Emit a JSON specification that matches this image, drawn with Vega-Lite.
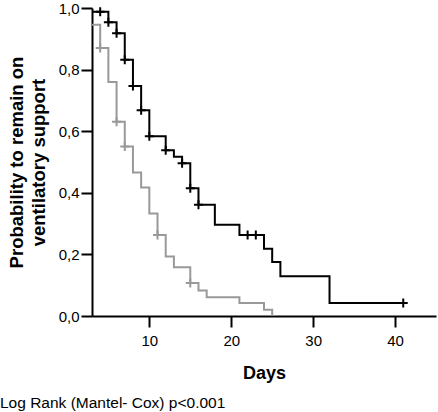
{
  "$schema": "https://vega.github.io/schema/vega-lite/v6.json",
  "width": 344,
  "height": 308,
  "autosize": {"type": "none"},
  "padding": {"left": 92, "top": 8, "right": 2, "bottom": 96},
  "background": "white",
  "config": {"view": {"stroke": null}, "font": "Liberation Sans"},
  "datasets": {
    "curve": [
      {"group": "B", "day": 3, "surv": 0.988},
      {"group": "B", "day": 5, "surv": 0.954},
      {"group": "B", "day": 6, "surv": 0.918},
      {"group": "B", "day": 7, "surv": 0.832},
      {"group": "B", "day": 8, "surv": 0.747},
      {"group": "B", "day": 9, "surv": 0.668},
      {"group": "B", "day": 10, "surv": 0.584},
      {"group": "B", "day": 12, "surv": 0.538},
      {"group": "B", "day": 13, "surv": 0.517},
      {"group": "B", "day": 14, "surv": 0.496},
      {"group": "B", "day": 15, "surv": 0.415},
      {"group": "B", "day": 16, "surv": 0.361},
      {"group": "B", "day": 18, "surv": 0.296},
      {"group": "B", "day": 21, "surv": 0.263},
      {"group": "B", "day": 24, "surv": 0.218},
      {"group": "B", "day": 25, "surv": 0.175},
      {"group": "B", "day": 26, "surv": 0.129},
      {"group": "B", "day": 32, "surv": 0.042},
      {"group": "B", "day": 41, "surv": 0.042},
      {"group": "A", "day": 3, "surv": 0.946},
      {"group": "A", "day": 4, "surv": 0.870},
      {"group": "A", "day": 5, "surv": 0.760},
      {"group": "A", "day": 6, "surv": 0.631},
      {"group": "A", "day": 7, "surv": 0.550},
      {"group": "A", "day": 8, "surv": 0.466},
      {"group": "A", "day": 9, "surv": 0.417},
      {"group": "A", "day": 10, "surv": 0.333},
      {"group": "A", "day": 11, "surv": 0.263},
      {"group": "A", "day": 12, "surv": 0.193},
      {"group": "A", "day": 13, "surv": 0.158},
      {"group": "A", "day": 15, "surv": 0.107},
      {"group": "A", "day": 16, "surv": 0.083},
      {"group": "A", "day": 17, "surv": 0.061},
      {"group": "A", "day": 21, "surv": 0.042},
      {"group": "A", "day": 24, "surv": 0.020},
      {"group": "A", "day": 25, "surv": 0.0}
    ],
    "censor": [
      {"group": "B", "day": 4, "surv": 0.988},
      {"group": "B", "day": 5, "surv": 0.954},
      {"group": "B", "day": 6, "surv": 0.918},
      {"group": "B", "day": 7, "surv": 0.832},
      {"group": "B", "day": 8, "surv": 0.747},
      {"group": "B", "day": 9, "surv": 0.668},
      {"group": "B", "day": 10, "surv": 0.584},
      {"group": "B", "day": 12, "surv": 0.538},
      {"group": "B", "day": 14, "surv": 0.496},
      {"group": "B", "day": 15, "surv": 0.415},
      {"group": "B", "day": 16, "surv": 0.361},
      {"group": "B", "day": 22, "surv": 0.263},
      {"group": "B", "day": 23, "surv": 0.263},
      {"group": "B", "day": 41, "surv": 0.042},
      {"group": "A", "day": 4, "surv": 0.870},
      {"group": "A", "day": 6, "surv": 0.631},
      {"group": "A", "day": 7, "surv": 0.550},
      {"group": "A", "day": 11, "surv": 0.263},
      {"group": "A", "day": 15, "surv": 0.107}
    ]
  },
  "title": {
    "text": "Log Rank (Mantel- Cox) p<0.001",
    "orient": "bottom",
    "anchor": "start",
    "frame": "group",
    "dx": -92,
    "offset": 14,
    "fontSize": 15.5,
    "fontWeight": "normal",
    "color": "black",
    "font": "Liberation Sans"
  },
  "encoding": {
    "x": {
      "field": "day",
      "type": "quantitative",
      "scale": {"domain": [3, 45], "nice": false, "zero": false},
      "axis": {
        "values": [10, 20, 30, 40],
        "grid": false,
        "tickSize": 11,
        "tickWidth": 2,
        "tickColor": "black",
        "domainWidth": 2,
        "domainColor": "black",
        "labelFontSize": 15,
        "labelColor": "black",
        "labelPadding": 6,
        "labelFlush": false,
        "title": "Days",
        "titleFontSize": 18,
        "titleFontWeight": "bold",
        "titleColor": "black",
        "titlePadding": 16
      }
    },
    "y": {
      "field": "surv",
      "type": "quantitative",
      "scale": {"domain": [0, 1], "nice": false},
      "axis": {
        "values": [0, 0.2, 0.4, 0.6, 0.8, 1.0],
        "labelExpr": "replace(format(datum.value, '.1f'), '.', ',')",
        "grid": false,
        "tickSize": 11,
        "tickWidth": 2,
        "tickColor": "black",
        "domainWidth": 2,
        "domainColor": "black",
        "labelFontSize": 15,
        "labelColor": "black",
        "labelPadding": 2,
        "labelFlush": false,
        "labelOverlap": false,
        "title": ["Probability to remain on", "ventilatory support"],
        "titleFontSize": 18.5,
        "titleFontWeight": "bold",
        "titleColor": "black",
        "titleLineHeight": 22,
        "titlePadding": 10
      }
    },
    "color": {
      "field": "group",
      "type": "nominal",
      "scale": {"domain": ["A", "B"], "range": ["#999999", "#000000"]},
      "legend": null
    }
  },
  "layer": [
    {
      "data": {"name": "curve"},
      "mark": {"type": "line", "interpolate": "step-after", "strokeWidth": 2}
    },
    {
      "data": {"name": "censor"},
      "mark": {
        "type": "point",
        "shape": "M-1,0L1,0M0,-1L0,1",
        "filled": false,
        "strokeWidth": 2,
        "size": 81,
        "opacity": 1
      }
    }
  ]
}
